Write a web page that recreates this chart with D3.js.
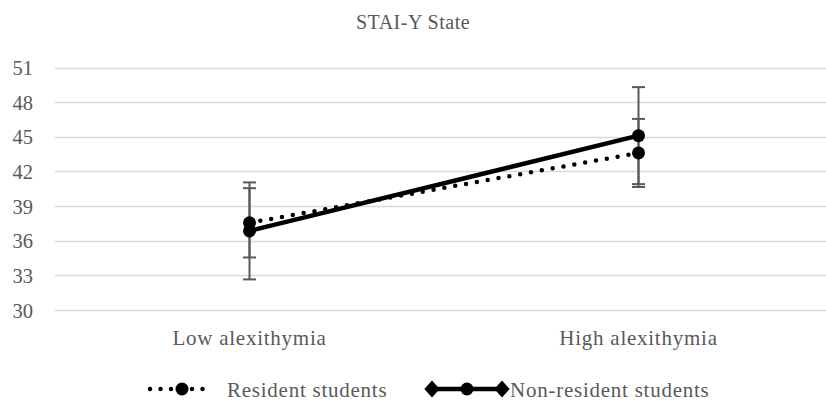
<!DOCTYPE html>
<html>
<head>
<meta charset="utf-8">
<script src="https://cdn.jsdelivr.net/npm/d3@7"></script>
<style>
  html, body { margin: 0; padding: 0; background: #fff; }
  svg text { font-family: "Liberation Serif", "DejaVu Serif", serif; fill: #595959; }
</style>
</head>
<body>
<svg id="chart" width="826" height="402"></svg>
<script>
// Group means and error bar half-widths for STAI-Y State
const categories = ["Low alexithymia", "High alexithymia"];
const residentMeans = [37.55, 43.6];
const residentErr = [3.0, 2.95];
const nonResidentMeans = [36.85, 45.1];
const nonResidentErr = [4.2, 4.2];
const yTicks = [30, 33, 36, 39, 42, 45, 48, 51];
const seriesNames = ["Resident students", "Non-resident students"];
const chartTitle = "STAI-Y State";

const svg = d3.select("#chart");
const W = 826, H = 402;
const plot = { left: 55, right: 833, top: 67.5, bottom: 310 };
const labelFont = "21px";
const spacing = "0.75px";

const x = d3.scaleBand().domain(categories).range([plot.left, plot.right]);
const xc = c => x(c) + x.bandwidth() / 2;
const y = d3.scaleLinear().domain([30, 51]).range([plot.bottom, plot.top]);

// Title
svg.append("text")
  .attr("x", 413).attr("y", 29)
  .attr("text-anchor", "middle")
  .style("font-size", "20px").style("letter-spacing", "0.5px")
  .text(chartTitle);

// Horizontal gridlines
svg.append("g").selectAll("line").data(yTicks).join("line")
  .attr("x1", plot.left).attr("x2", W)
  .attr("y1", d => Math.round(y(d)) + 0.5).attr("y2", d => Math.round(y(d)) + 0.5)
  .attr("stroke", "#d9d9d9").attr("stroke-width", 1.3);

// Y axis labels
const yAxis = d3.axisLeft(y).tickValues(yTicks).tickSize(0).tickPadding(0);
const yg = svg.append("g").attr("transform", `translate(33,0)`).call(yAxis);
yg.select(".domain").remove();
yg.selectAll("text").style("font-size", "20.5px").attr("dy", "0.35em").attr("fill", "#595959");

// Category labels
const xAxis = d3.axisBottom(x).tickSize(0).tickPadding(0);
const xg = svg.append("g").attr("transform", `translate(0,345)`).call(xAxis);
xg.select(".domain").remove();
xg.selectAll("text").style("font-size", labelFont).style("letter-spacing", spacing)
  .attr("dy", "0").attr("fill", "#595959");

// Build series records
const series = [
  { name: seriesNames[0], means: residentMeans, err: residentErr, dotted: true },
  { name: seriesNames[1], means: nonResidentMeans, err: nonResidentErr, dotted: false }
].map(s => ({ ...s, pts: categories.map((c, i) => ({ c, v: s.means[i], e: s.err[i] })) }));

// Error bars
const capHalf = 6.5;
series.forEach(s => {
  const g = svg.append("g").attr("stroke", "#595959").attr("stroke-width", 2);
  s.pts.forEach(p => {
    const cx = xc(p.c);
    g.append("line").attr("x1", cx).attr("x2", cx)
      .attr("y1", y(p.v + p.e)).attr("y2", y(p.v - p.e));
    [p.v + p.e, p.v - p.e].forEach(v => {
      g.append("line").attr("x1", cx - capHalf).attr("x2", cx + capHalf)
        .attr("y1", y(v)).attr("y2", y(v));
    });
  });
});

// Lines and markers
const line = d3.line().x(p => xc(p.c)).y(p => y(p.v));
series.forEach(s => {
  const path = svg.append("path").datum(s.pts)
    .attr("d", line).attr("fill", "none").attr("stroke", "#000");
  if (s.dotted) {
    path.attr("stroke-width", 4.5).attr("stroke-dasharray", "0 11").attr("stroke-linecap", "round");
  } else {
    path.attr("stroke-width", 4.5);
  }
  svg.append("g").selectAll("circle").data(s.pts).join("circle")
    .attr("cx", p => xc(p.c)).attr("cy", p => y(p.v)).attr("r", 6.5).attr("fill", "#000");
});

// Legend
const ly = 389;
const leg = svg.append("g");
// Resident students
leg.append("line").attr("x1", 150).attr("x2", 213).attr("y1", ly).attr("y2", ly)
  .attr("stroke", "#000").attr("stroke-width", 4.5)
  .attr("stroke-dasharray", "0 10.5").attr("stroke-linecap", "round");
leg.append("circle").attr("cx", 182).attr("cy", ly).attr("r", 6.5).attr("fill", "#000");
leg.append("text").attr("x", 227).attr("y", 397)
  .style("font-size", labelFont).style("letter-spacing", spacing).text(seriesNames[0]);
// Non-resident students
leg.append("line").attr("x1", 430).attr("x2", 504).attr("y1", ly).attr("y2", ly)
  .attr("stroke", "#000").attr("stroke-width", 4.5);
[432, 502].forEach(dx => {
  leg.append("path")
    .attr("d", d3.symbol().type(d3.symbolDiamond2).size(150)())
    .attr("transform", `translate(${dx},${ly}) scale(1,1.1)`)
    .attr("fill", "#000");
});
leg.append("circle").attr("cx", 467).attr("cy", ly).attr("r", 6.5).attr("fill", "#000");
leg.append("text").attr("x", 510).attr("y", 397)
  .style("font-size", labelFont).style("letter-spacing", spacing).text(seriesNames[1]);
</script>
</body>
</html>
